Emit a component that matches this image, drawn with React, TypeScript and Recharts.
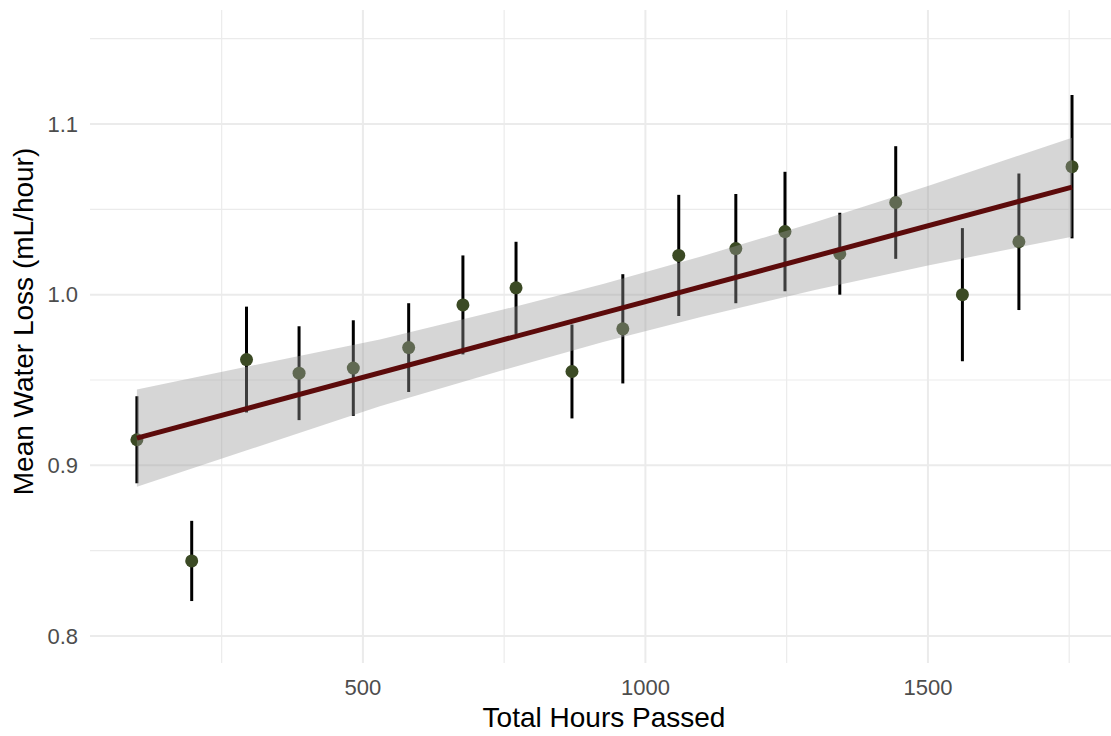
import {
  ComposedChart,
  Scatter,
  ErrorBar,
  Line,
  Area,
  XAxis,
  YAxis,
  CartesianGrid,
  Label,
} from 'recharts';

// mean water loss per sampling time
const hours = [100, 197, 294, 387, 483, 581, 677, 771, 870, 960, 1059, 1160, 1247, 1344, 1443, 1561, 1661, 1755];
const meanLoss = [0.915, 0.844, 0.962, 0.954, 0.957, 0.969, 0.994, 1.004, 0.955, 0.98, 1.023, 1.027, 1.037, 1.024, 1.054, 1.0, 1.031, 1.075];
const lossError = [0.0255, 0.0235, 0.031, 0.0275, 0.028, 0.026, 0.029, 0.027, 0.0275, 0.032, 0.0355, 0.032, 0.035, 0.024, 0.033, 0.039, 0.04, 0.042];

// linear fit and its confidence band
const fitHours = [100, 1755];
const fitValues = [0.916, 1.063];
const bandHours = [100, 300, 530, 750, 925, 1100, 1300, 1500, 1755];
const bandLow = [0.8875, 0.9094, 0.9347, 0.956, 0.9723, 0.9871, 1.0027, 1.0171, 1.034];
const bandHigh = [0.9445, 0.9582, 0.9737, 0.9914, 1.0063, 1.0225, 1.0425, 1.0637, 1.092];

const xTicks = [500, 1000, 1500];
const xMinor = [250, 750, 1250, 1750];
const yTicks = [0.8, 0.9, 1.0, 1.1];
const yMinor = [0.85, 0.95, 1.05, 1.15];

const points = hours.map((x, i) => ({ x, y: meanLoss[i], err: lossError[i] }));
const fit = fitHours.map((x, i) => ({ x, fit: fitValues[i] }));
const band = bandHours.map((x, i) => ({ x, band: [bandLow[i], bandHigh[i]] }));

const FONT = '"Liberation Sans", Arial, sans-serif';
const tickStyle = { fill: '#4d4d4d', fontSize: 22, fontFamily: FONT };
const titleStyle = { fill: '#000', fontSize: 28, fontFamily: FONT };

const Dot = (props: any) => <circle cx={props.cx} cy={props.cy} r={6.5} fill="#3b4a24" />;

export default function App() {
  return (
    <div style={{ position: 'absolute', left: 0, top: 0, background: '#fff' }}>
      <ComposedChart width={1111} height={736} margin={{ top: 10, right: 0, bottom: 0, left: 0 }}>
        <CartesianGrid
          stroke="#ebebeb"
          strokeWidth={1.2}
          horizontalValues={yMinor}
          verticalValues={xMinor}
        />
        <CartesianGrid stroke="#ebebeb" strokeWidth={2} horizontalValues={yTicks} verticalValues={xTicks} />
        <XAxis
          type="number"
          dataKey="x"
          domain={[17, 1824]}
          allowDataOverflow
          ticks={xTicks}
          height={73}
          tickSize={0}
          tickMargin={16}
          axisLine={false}
          tickLine={false}
          tick={tickStyle}
        >
          <Label value="Total Hours Passed" position="center" dx={3.5} dy={18} style={titleStyle} />
        </XAxis>
        <YAxis
          type="number"
          domain={[0.7842, 1.1668]}
          allowDataOverflow
          ticks={yTicks}
          width={90}
          tickSize={0}
          tickMargin={12}
          axisLine={false}
          tickLine={false}
          tick={tickStyle}
          tickFormatter={(v: number) => v.toFixed(1)}
        >
          <Label value="Mean Water Loss (mL/hour)" angle={-90} position="center" dx={-22} dy={-15} style={titleStyle} />
        </YAxis>
        <Scatter data={points} dataKey="y" shape={Dot} zIndex={50} isAnimationActive={false}>
          <ErrorBar dataKey="err" direction="y" width={0} stroke="#000" strokeWidth={3} zIndex={40} isAnimationActive={false} />
        </Scatter>
        <Area
          data={band}
          dataKey="band"
          type="linear"
          stroke="none"
          fill="#999999"
          fillOpacity={0.4}
          zIndex={100}
          isAnimationActive={false}
        />
        <Line
          data={fit}
          dataKey="fit"
          type="linear"
          stroke="#5c0b0b"
          strokeWidth={5}
          dot={false}
          zIndex={400}
          isAnimationActive={false}
        />
      </ComposedChart>
    </div>
  );
}
